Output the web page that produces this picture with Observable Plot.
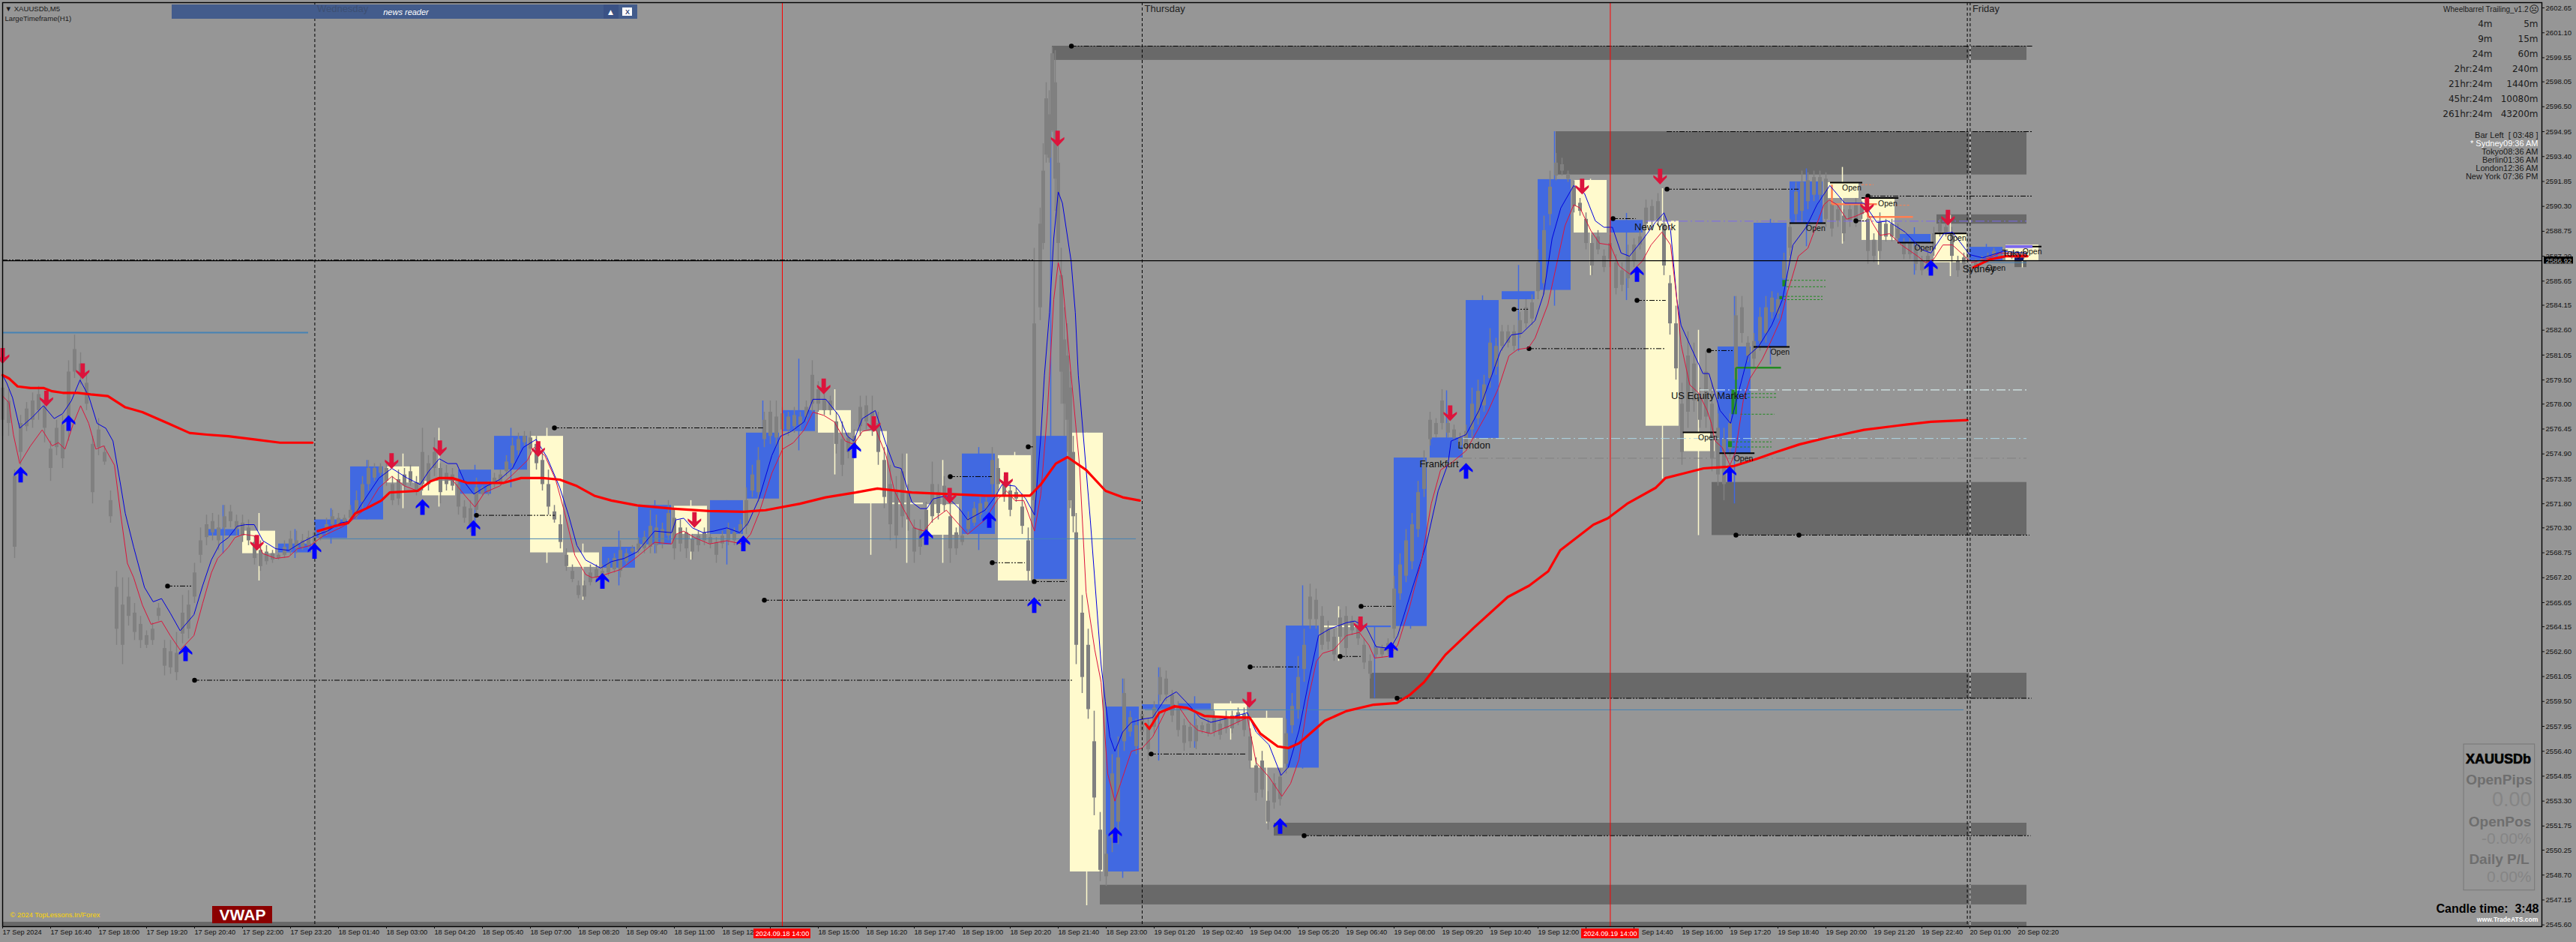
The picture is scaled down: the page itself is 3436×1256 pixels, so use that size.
<!DOCTYPE html>
<html><head><meta charset="utf-8">
<script src="https://cdn.jsdelivr.net/npm/d3@7"></script>
<script src="https://cdn.jsdelivr.net/npm/@observablehq/plot@0.6"></script>
<style>html,body{margin:0;padding:0;background:#969696}svg{display:block}</style>
</head><body><div id="chart"></div>
<script>
// All price values below are stored minus priceBase; bars are M5 bar numbers counted from the left edge.
const priceBase = 2000;
const priceTicks = [2602.65,2601.10,2599.55,2598.05,2596.50,2594.95,2593.40,2591.85,2590.30,2588.75,2587.20,2585.65,2584.15,2582.60,2581.05,2579.50,2578.00,2576.45,2574.90,2573.35,2571.80,2570.30,2568.75,2567.20,2565.65,2564.15,2562.60,2561.05,2559.50,2557.95,2556.40,2554.85,2553.30,2551.75,2550.25,2548.70,2547.15,2545.60];
const timeLabels = ["17 Sep 2024","17 Sep 16:40","17 Sep 18:00","17 Sep 19:20","17 Sep 20:40","17 Sep 22:00","17 Sep 23:20","18 Sep 01:40","18 Sep 03:00","18 Sep 04:20","18 Sep 05:40","18 Sep 07:00","18 Sep 08:20","18 Sep 09:40","18 Sep 11:00","18 Sep 12","","18 Sep 15:00","18 Sep 16:20","18 Sep 17:40","18 Sep 19:00","18 Sep 20:20","18 Sep 21:40","18 Sep 23:00","19 Sep 01:20","19 Sep 02:40","19 Sep 04:00","19 Sep 05:20","19 Sep 06:40","19 Sep 08:00","19 Sep 09:20","19 Sep 10:40","19 Sep 12:00","","\u00a0\u00a0\u00a0\u00a0Sep 14:40","19 Sep 16:00","19 Sep 17:20","19 Sep 18:40","19 Sep 20:00","19 Sep 21:20","19 Sep 22:40","20 Sep 01:00","20 Sep 02:20"];
const barsPerLabel = 16;

// M5 candles, one row every 2 bars: [high, low, bodyTop, bodyBottom]
const candlesTue = [[579.8,576,579,577],[578.9,576,578.2,576.8],[573.9,568.4,573.5,569.1],[577.3,574.2,576.8,575],[578.1,576.3,577.7,576.6],[578.7,576.5,578.2,577],[579.1,577,578.6,577.6],[578.4,575.6,577.8,576.5],[575.7,573.2,575.2,574],[577,574.8,576.5,575.3],[577.3,574,576.7,574.6],[580.7,575.7,580,576.5],[582.3,579.6,581.4,580],[581.2,579.2,580.5,579.8],[580,577.6,579.3,578],[576,571.8,575.5,572.5],[577.1,574.8,576.4,575.3],[575.4,574.2,575,574.4],[572.6,570.6,572,571],[567.6,563,566.6,564],[567.2,561.8,565.5,563],[567.2,564.2,566,564.8],[565.6,563.3,565,563.8],[564.8,562.8,564.3,563.3],[563.9,562.8,563.6,563],[564.4,563,564,563.3],[565.6,564.5,565.3,564.8],[563.3,561.1,562.8,561.7],[563.3,561.2,562.6,561.6],[563.8,560.8,562.5,561.3],[566.1,563.1,565,563.7],[566.4,563.4,565.5,564],[568.1,565.6,567.5,566],[570.3,568.1,569.5,568.6],[571.1,569.2,570.5,569.7],[571.2,569.5,570.7,570],[571.1,568.9,570.3,569.5],[571.7,569.8,571,570.3],[571.7,570.3,571.3,570.7],[571.1,569.8,570.7,570.2],[571.1,569.4,570.6,569.8],[570.8,569.2,570.3,569.5],[569.8,568,569.4,568.4],[569.5,567.6,568.9,567.9],[569.2,568,568.8,568.2],[568.9,568.1,568.7,568.3],[568.7,568.3,568.6,568.4],[569.5,568.4,569.1,568.6],[570.1,568.6,569.6,568.9],[570.1,568.7,569.5,569],[569.9,568.9,569.5,569.1],[570.1,569,569.7,569.2]];
const candlesWed = [[570.6,568.9,570,569.2],[570.1,569.5,569.9,569.6],[570.9,569.8,570.5,570],[571.4,570.3,571,570.5],[571.2,570.3,570.9,570.5],[571.1,570.4,570.9,570.6],[571.7,570.8,571.4,570.9],[572.6,570.8,572,571],[573.5,571.5,573,571.9],[574.5,572.6,574,573],[574.3,573.2,574,573.4],[574.3,573.5,574.1,573.7],[574.3,572.9,574,573.2],[573.5,571.7,573,572],[573.9,571.7,573.3,572.1],[574,572.6,573.6,572.9],[574.2,572.9,573.8,573.1],[573.5,572.3,573.1,572.6],[576.5,572.6,575,573],[574.8,572.6,574.3,573],[575.9,573.5,575,574],[574.3,571.8,574,572.5],[574.2,572.6,573.7,573],[574,572.6,573.6,572.9],[573.4,571.1,573,571.6],[572,570.6,571.6,570.9],[572,570,571.5,570.5],[573.4,571.1,572.8,571.4],[572.9,572.3,572.8,572.4],[573.2,572.3,572.9,572.5],[573.7,572.8,573.4,573],[573.9,572.9,573.6,573.1],[574.8,573.5,574.4,573.8],[575.9,574,575.4,574.3],[576.2,574.8,575.8,575.1],[576.3,575.4,576,575.6],[576.3,574.8,575.9,575.2],[576,573.9,575.5,574.3],[575.1,572.6,574.5,573],[573.9,571.1,573,571.6],[571.7,570.6,571.3,570.8],[571.1,569,570.5,569.4],[569,567.6,568.6,567.9],[568,566.9,567.6,567.1],[567,565.9,566.7,566.1],[567,565.8,566.7,566],[568,566.7,567.5,566.9],[568,567,567.7,567.2],[568,566.7,567.6,566.9],[568.4,567.3,568.1,567.5],[568.7,567.5,568.4,567.7],[569.5,567.2,568.9,567.6],[569,568,568.7,568.2],[569.2,568.7,569,568.8],[569.7,568.7,569.3,568.9],[570.1,568.7,569.7,569],[571.4,568.7,570.4,569.1],[571.1,568.7,570.3,569.2],[570.6,569,570.2,569.3],[572,569.5,571.2,569.8],
[571.5,568.3,570.9,569],[570.8,568.8,570.3,569.3],[570.3,568.4,570,569],[569.9,568.3,569.6,568.8],[570.1,568.8,569.8,569.2],[570.3,569.2,570,569.5],[569.9,569,569.7,569.3],[569.7,568.1,569.4,568.6],[570.1,569,569.8,569.3],[570.6,569.2,570.2,569.5],[570.3,569.2,570,569.5],[570.8,569.9,570.5,570.1],[572.8,569.9,572,570.4],[574.2,572.2,573.6,572.6],[575.3,571.9,574.5,572.5],[577.5,575.3,577,575.8],[578.2,575.5,577.5,576],[578.2,575.3,577.2,575.9],[577.8,576,577.4,576.4],[577.5,576,577.2,576.4],[577.8,576.2,577.3,576.6],[577.5,576.4,577.2,576.7],[578.2,576.9,577.8,577.2],[580.7,577.5,579.8,578],[579.4,577.5,578.9,578],[578.7,577.3,578.3,577.6],[578.5,577.3,578.2,577.6],[577.5,574.9,576.9,575.5],[576.9,573.5,575.8,574.2],[576.2,574.6,575.9,575],[576.4,574.6,576,575],[578.5,576,577.8,576.6],[578.5,576.4,577.9,576.9],[578.5,576,577.5,576.5],[577.5,574.2,576.8,575],[575.3,571.5,574.5,572.2],[574.2,569.5,573,570.5],[573.5,569,572.5,569.8],[574.9,570.3,573.8,571],[573,570.1,572.5,570.8],[570.8,568.1,570.3,568.8],[570.8,568.6,570.2,569.1],[571.9,569.7,571.4,570.1],[574.4,570.6,573,571],[573,570.8,572.5,571.2],[573.5,571.3,572.9,571.7],[571.9,568.1,571,569],[570.3,568.6,570,569],[569.9,569.2,569.8,569.4],[571.3,569.9,570.9,570.2],[571.9,570.4,571.5,570.6],[572.2,570.8,571.8,571.1],[572.2,571.3,571.9,571.5],[575.3,572.4,574.5,573],[574.6,572.6,574,573],[573.5,571.9,573,572.3],[573,571,572.6,571.4],[572.8,571.9,572.5,572.1],[572.4,569.9,571.6,570.4],[570.3,567,569.5,567.6],[587.7,570.9,583,572]];
// the spike around 21:00 on Wednesday: [bar, high, low, bodyTop, bodyBottom]
const candlesSpike = [[346,590.2,583.2,589.2,584],[347,594.2,587.6,592.5,588],[348,598,593,597,593.5],[349,597.5,593,596,593.3],[350,600.2,594.9,599.8,595],[351,600,590,598,592],[352,594.9,586.8,593,588],[353,587.7,578,586,580],[354,584,576,582,578],[355,583,575,581,577],[356,580,571.5,579,572],[357,576,570,575,571]];
const candlesThu = [[571.2,561.8,570,563],[566.1,560,565,561],[564,558.4,563,559],[558.9,552.4,557,553.5],[552.6,548.3,551.5,549],[551.2,548,550,548.6],[556.2,550.1,555,551],[557.3,550.6,556,552],[560.9,556.4,560,557],[558.9,557.3,558.5,557.6],[558.4,556.2,558,556.7],[559.1,557.3,558.7,557.6],[558.4,555.8,558,556.5],[559.5,557.5,559.1,557.9],[561.6,559.5,561,559.9],[561.4,559.5,560.9,559.9],[560.2,558.2,559.9,558.6],[559.5,557.3,559.1,557.7],[558.4,556.4,558,556.9],[558.2,556.6,557.9,557],[558.4,556.5,558,557],[558.2,557.5,558,557.7],[558.4,557.3,558.1,557.5],[558.9,557.3,558.5,557.6],[558.4,557.1,558.1,557.4],[558.9,557.5,558.5,557.8],[558.9,557.5,558.6,557.8],[559.1,558,558.8,558.2],[559.1,557.3,558.7,557.7],[557.8,555.3,557.3,555.8],[556,553.3,555.5,553.8],[556.4,553.5,555.8,554],[553.9,551.5,553.3,552],[555,552.8,554.4,553.2],[555.3,553,554.8,553.4],[558.4,555,557.5,555.6],[560,557.5,559.2,558],[562.3,558.4,561,559],[564,560.7,563,561.5],[566.8,564,566,564.6],[566.5,564,565.8,564.6],[565.4,562.7,564.8,563],[564.5,562.7,564,563.2],[564,562,563.5,562.4],[565.2,563.2,564.7,563.5],[565.4,562.2,564.8,562.8],
[564.8,563.6,564.5,563.9],[564.6,563,564.2,563.4],[563.4,561.5,563,561.9],[562.4,560.9,562,561.2],[563,562.2,562.8,562.4],[563,562.2,562.8,562.4],[563.4,562.4,563.1,562.6],[567.3,563.4,566.5,564],[568.7,565.8,568,566.2],[570.2,566.9,569.5,567.3],[571.2,567.7,570.5,568.2],[573.2,569.7,572.5,570.2],[575.1,572.2,574.5,572.7],[577.5,575.4,577,575.8],[577.1,575.9,576.8,576.1],[578.9,576.4,578.2,576.8],[577.1,575.9,576.8,576.2],[576.7,575.7,576.4,575.9],[576.2,575.1,575.9,575.4],[576.7,575.1,576.3,575.4],[579,575.9,578,576.4],[579.5,576.7,578.8,577.1],[579.8,577.5,579.2,577.9],[582.7,579,581.8,579.6],[582.1,579.8,581.6,580.3],[582.9,581.3,582.5,581.6],[582.9,581.5,582.5,581.8],[582.9,581.3,582.5,581.6],[583.7,582.1,583.2,582.4],[584.5,582.7,584,583],[584.8,582.9,584.3,583.3],[587.6,584.5,586.8,585],[589.7,584.8,588.8,585.5],[592.5,589.1,591.5,589.8],[593.6,591.9,593,592.2],[593.3,592.2,592.9,592.5],[592.5,591.8,592.3,592],[591.9,589.9,591.5,590.3],[590.8,589.7,590.5,590],[589.9,587.6,589.5,588],[588.5,586,588,586.6],[588.8,587.3,588.4,587.6],[587.6,586.2,587.2,586.5],[588.5,586.5,588,587],[587.3,584.8,586.8,585.2],[586.8,585,586.3,585.4],[587.9,585.2,587.2,585.8],[588.3,586.5,587.9,586.9],[588.8,587.6,588.4,587.9],[590.7,588.8,590.2,589.2],[590.7,589.1,590.3,589.4],[591.1,589.1,590.6,589.5],[589.7,586,589.2,586.6],[586,582.3,585.5,583],[584.1,579.5,583,580.2],
[579.3,574.2,578,575],[582.5,576.5,581,577.5],[581.8,577.5,580.5,578.2],[579,576.5,578.4,577],[581.3,576.5,580,577.2],[579.3,573.8,578,574.6],[577.4,572.9,576.5,573.6],[576.5,572,575.8,573],[577.4,574.7,576.8,575.2],[584.7,578.3,583.5,579.5],[584.7,581.8,584,582.4],[582.2,580.6,581.8,581],[582.4,580.2,581.9,580.8],[584,581.3,583.4,581.9],[584.7,581.8,584,582.4],[585,583.3,584.6,583.7],[584.9,583.3,584.5,583.6],[587.4,585.4,586.9,585.8],[589.5,587.2,589,587.7],[591.8,589.2,591.2,589.8],[592.5,589.3,591.8,590],[592.4,590.1,591.9,590.6],[592.5,590.6,592.1,591],[592.5,590.6,592.1,591],[592.4,589,592,589.5],[590.8,588.4,590.4,588.9],[590.4,589,590.1,589.4],[590.1,588.1,589.7,588.6],[590.4,589,590.1,589.4],[590.8,589,590.4,589.4],[590.6,589.5,590.3,589.8],[590.1,586.7,589.5,587.5],[588.6,586.8,588.2,587.2],[589.9,587,589.3,587.5],[589.5,588.1,589.2,588.4],[589.5,588.1,589.2,588.4],[589.2,588.1,588.9,588.3],[588.3,587,588,587.3],[588.3,587,588,587.3],[588.1,586.3,587.8,586.7],[587.2,586,586.9,586.3],[587.5,586.3,587.2,586.6],[589,587.2,588.6,587.6],[589.5,588.4,589.2,588.7],[589.2,588.4,589,588.6],[589,586.8,588.6,587.2],[587.2,585.9,586.9,586.3],[587.4,586.5,587.1,586.7],[586.8,585.9,586.6,586.2],[587,586.1,586.8,586.3],[587.2,586.7,587,586.8],[587.4,586.8,587.2,587],[587.7,587,587.5,587.2],[587.5,587,587.3,587.1],[587.5,587.2,587.4,587.3],[587.5,587,587.4,587.1],[587.5,587,587.4,587.1],[587.3,587,587.2,587.1]];

// H1 candles behind the M5 ones: [firstBar, colour key, bodyTop, bodyBottom, high, low]
const hourCandles = [[68,"up",570.2,569.8,571.7,568.7],[80,"down",570.1,568.7,571.2,567],[92,"up",569.3,568.75,570.2,568.4],[104,"up",570.8,569.65,571.5,569.3],[116,"up",574.1,570.8,574.5,570.8],[128,"down",574.1,573.1,574.9,571.5],[140,"down",573.2,572.3,576.5,571.6],[152,"up",573.9,572.4,574.2,570.6],[164,"up",576,573.9,576.5,572.8],[176,"down",576,568.75,576.5,568.1],[188,"down",568.75,567.85,569.3,565.8],[200,"up",569.1,567.8,570.1,566.7],[212,"up",571.7,569.25,572,568.7],[224,"down",571.65,569.9,572,568.3],[236,"up",572,569.9,572,568],[248,"up",576.2,572.1,578.2,572.1],[260,"up",577.6,576.3,580.8,575.1],[272,"down",577.6,576.2,578.9,573.6],[284,"down",576.3,571.8,576.3,568.6],[296,"down",571.85,571.75,574.9,568.1],[308,"down",571.75,569.85,574.5,568.1],[320,"up",574.9,569.9,575.3,568.9],[332,"down",574.8,567,575,567],[344,"up",576,567.1,594.96,567.1],[356,"down",576.2,548.9,576.2,546.8],[368,"up",559.16,548.9,560.9,548.5],[380,"up",559.3,559,561.6,555.8],[392,"up",559.36,559,559.8,556.6],[404,"down",559.36,558.46,559.5,557.1],[416,"down",558.46,555.36,558.9,551.9],[428,"up",564.2,555.36,566.7,555.3],[440,"down",564.2,564.1,565.4,562],[452,"up",564.2,564.1,564.2,559.7],[464,"up",574.65,564.17,574.65,564],[476,"up",575.9,574.65,578.83,574.65],[488,"up",584.45,575.87,584.74,575.87],[500,"up",585,584.5,586.63,581.27],[512,"up",591.97,585.08,594.95,584.1],[524,"down",591.92,588.65,592,586],[536,"up",589.43,588.65,589.87,584.45],[548,"down",589.38,576.63,591.4,573.35],[560,"down",576.24,575.05,582.6,569.83],[572,"up",581.56,574.94,584.7,571.8],[584,"up",589.26,581.56,589.5,580.44],[596,"up",591.83,589.26,592.64,587.8],[608,"down",591.78,590.8,592.73,587.96],[620,"down",590.8,588.19,590.8,586.65],[632,"up",588.56,588.05,588.98,586.03],[644,"down",588.6,586.8,589.75,585.94],[656,"up",587.76,586.92,587.94,586.92],[668,"down",587.9,586.94,587.9,586.48]];

// Grey supply / demand zones: [firstBar, lastBar, top, bottom]
const zones = [[350,675,600.27,599.39],[518,675,594.95,592.26],[645,675,589.78,589.2],[570,675,573.13,569.83],[456,675,561.26,559.66],[424,675,551.93,551.13],[366,675,548.07,546.85],[0,675,545.77,545.49],[671,675,586.9,586.5]];
// Dash-dot level lines: [dotBar, endBar, price]
const levels = [[356.4,677,600.27],[555,599,591.37],[622,677,590.94],[618,621.6,589.4],[537,544.7,589.54],[545,554.7,584.45],[504,508.8,583.9],[509,554.7,581.45],[569,577,581.33],[578,676,569.85],[599,599,569.85],[465,676.7,559.7],[434,676.4,551.15],[383,415,556.23],[416,433,561.65],[446,453,562.3],[453,464,565.42],[342,344,575.34],[316,330,573.49],[330,341,568.13],[344,355,566.96],[254,355,565.8],[64,357,560.82],[184,253.7,576.52],[55,63,566.68],[158,184.3,571.08]];
const zoneTopLine = [[555,677,594.95]];
const steelLines = [[0,102,582.45,2],[106,378,569.62,1],[381,654,558.98,1],[659,675,586.8,1]];
const sessionLines = [[566,675,578.88,"#e6ffff"],[487,675,575.86,"#add8e6"],[487,675,574.63,"#808080"],[548,675,589.38,"#7b68ee"]];
const coralSolid = [[610,610,591.65,590.44],[610,625,590.44,590.44],[622,622,590.4,589.64],[622,637,589.64,589.64]];
const coralDashed = [[620,624,591.65],[631.4,636.3,590.37]];
const greenSolid = [[578,578,580.26,577.37],[578,593,580.26,580.26]];
const greenThick = [[577,578.9,577.37]];
const greenBlocks = [[575.5,576.8,575.67,575.3],[593.6,594.8,585.7,585.3],[592.6,593.6,584.7,584.5]];
const greenDashed = [[595,608,585.7],[595,608,585.3],[594,607,584.7],[594,607,584.5],[582,592,578.65],[582,592,578.42],[579.6,591,577.37],[577,590,575.65],[577,590,575.33]];
const openLines = [[609.5,620.25,591.78],[620,632.3,590.82],[632,644,588.05],[644.4,655,588.62],[673.4,680,587.8],[596,608,589.26],[584,596,581.56],[572.6,584.3,574.94],[560.4,571.6,576.24]];
const openLabels = [[616.6,591.44],[628.6,590.46],[640.7,587.73],[651.6,588.3],[676.8,587.48],[664.7,586.44],[604.6,588.92],[592.7,581.24],[580.5,574.6],[568.6,575.9]];
const sessionLabels = [["London",490.7,575.45],["Frankfurt",479,574.28],["New York",551,589],["US Equity Market",569,578.5],["Sydney",659,586.4],["Tokyo",671,587.4]];

// Moving averages: [bar, price]
const fastEma = [[0,579.8],[1.4,579.3],[3.3,578.4],[5.7,576.5],[10,577.2],[13.6,577.9],[17.2,577.1],[20,577.4],[22.9,578.2],[25.8,579.5],[28.7,578.5],[31.5,576.8],[34.4,576.5],[36.8,575.7],[39.4,572.9],[40.9,571.2],[43.7,569.1],[47.3,566.6],[50.2,565.7],[53,565.9],[55.9,565],[59.2,563.9],[63.8,564.9],[66.7,566.7],[69.6,568.3],[72.4,569.3],[75.3,569.7],[78.2,570.4],[81,570.5],[83.9,570.5],[86.8,569.5],[91.1,569],[95.4,568.9],[99.7,569.4],[104,569.8],[108.3,570.1],[112.6,570.6],[115.5,570.7],[118.4,571.4],[121.2,572.2],[125.5,573.4],[129.8,574],[134.9,573.4],[139.2,573],[142,573.8],[145.6,574.6],[148.5,574.3],[151.4,574.3],[154.2,573.1],[157.1,572.4],[161.4,572.9],[165.7,573.3],[170,574],[173.6,575.3],[177.9,575.8],[181.5,574.7],[185.8,572.8],[188.7,571.1],[191.5,569.2],[194.4,568.3],[199.4,567.8],[203,568.2],[207.3,568.4],[211.6,568.8],[217.4,570.1],[223.1,570],[224.5,570.8],[227.1,570.9],[230,570.3],[233.6,570],[237.2,570.1],[241.5,570.3],[245.8,570],[248.6,570.6],[252.2,572.1],[256.5,574.8],[259.4,576],[263,576.3],[267.3,576.9],[270.2,578.3],[274.5,578.3],[278.8,577.3],[281.7,576],[283.8,575.7],[286.7,577.1],[291,577.6],[294.6,575.5],[297.4,574.1],[299.6,574],[303.2,571.9],[306,571.5],[308.2,571.5],[310.3,572.1],[314.7,572.3],[319,571.5],[321.8,570.8],[327.6,571.4],[331.2,572.3],[333.3,573],[337.6,572.9],[341.2,572.1],[344.1,571.1],[346.2,576],[347.4,579.8],[349.1,583.7],[350.5,588.3],[352,591.2],[353.4,590.5],[356.3,586.9],[357.7,583.7],[358.7,579.8],[362.7,570.8],[366.3,561.8],[367.7,559.5],[369.2,557.3],[370.9,556.4],[373.5,557.6],[376.4,558.2],[380,558.4],[383.5,558.5],[387.8,559.7],[391.4,560.1],[395,559.4],[399.3,558.5],[402.9,558.2],[409.4,558.5],[415.1,558.8],[418,557.6],[422.3,556.8],[426.3,554.9],[428.7,555.4],[432.3,557.7],[435.9,561.1],[438.8,563.6],[442.4,564],[448.1,564.4],[450.9,564.5],[454.8,564.1],[458,562.9],[462.8,562.8],[465.2,563.6],[470,566.5],[474.8,569.3],[478.7,572.6],[482,574.3],[483,575.7],[488,576.1],[492.3,577.6],[496.6,579.8],[499.5,581.3],[503.1,582.3],[506.6,582.4],[511,583.2],[513.8,584.8],[516.7,588.3],[519.6,590.2],[523.9,591.6],[527.5,591.1],[531.1,589.4],[534,589],[536.8,589],[539.7,587.4],[542.5,587.2],[546.8,588.2],[551.1,589.3],[554,589.9],[556.2,588.8],[558.3,584.5],[559.7,582.9],[562.6,581.7],[567,579.9],[569,579.9],[572.7,577.6],[576.2,576.8],[579.1,578.9],[582,581],[585.6,581.6],[589.9,582.9],[593.5,584.5],[597,587.9],[601.4,589],[605,590.4],[609.3,591.6],[614.3,590.5],[620.7,590.5],[625,589.3],[628.6,589.4],[634.4,588.7],[640.1,587.6],[643,587.4],[647.3,588.6],[650.2,588.7],[655.9,587.3],[660.2,587.1],[667.1,587.5],[674.7,587.4]];
const slowEma = [[0,578.5],[2.1,578.1],[3.6,576.1],[5.7,574.3],[9.3,575.4],[13.2,576.4],[16.5,575.4],[18.6,575.6],[20.8,575.2],[23.6,576.8],[26,577.9],[28.7,576.8],[31.1,575.2],[33.7,575.4],[37.3,574.2],[39.4,571.1],[41.6,568.1],[43.7,567.2],[46.6,565.5],[49.5,564.3],[53,564.5],[55.9,563.6],[59.2,562.7],[63.8,563.6],[66.7,565.6],[69.6,567.5],[71.7,568.4],[75.3,569.1],[77.5,569.7],[80.3,569.9],[83.9,569.8],[86.8,568.7],[91.1,568.4],[95.4,568.5],[98.3,569],[102.6,569.2],[106.9,569.8],[112.6,570.3],[115.5,570.6],[118.4,571.1],[121.2,571.5],[125.5,572.8],[129.8,573.5],[134.1,572.9],[138.4,572.6],[142.7,573.2],[145.6,573.4],[149.9,573.3],[154.2,572.3],[157.5,571.6],[160.7,572.5],[165.7,572.9],[170,573.6],[175,574.5],[177.2,575.3],[180.8,574.8],[184.4,573.3],[187.2,571.4],[190.8,568.6],[194.4,567.4],[196.6,567.2],[199.4,567.3],[205.9,567.7],[211.6,568.5],[217.4,569.4],[223.1,569.3],[224.5,569.9],[227.1,570.1],[230.7,569.7],[235.7,569.3],[241.5,569.5],[246.5,569.3],[249.4,569.9],[252.2,571.2],[256.5,573.7],[260.1,575.2],[263.7,575.6],[267.3,576.4],[270.2,577.5],[273.8,577.3],[277.3,576.9],[281,575.7],[283.8,575.5],[286.7,576.3],[291,576.5],[294.6,574.8],[297.4,572.6],[300.3,571.5],[303.9,570.3],[307.2,570.1],[310.3,570.8],[314.7,571.4],[317.5,570.8],[321.8,569.9],[327.6,570.8],[331.9,572.1],[334.7,572.6],[337.6,572],[340.5,572],[344.1,570.1],[346.2,572.4],[348.4,577.5],[349.1,579.8],[350.5,584.5],[352,586.8],[353.4,585.7],[356.3,579.8],[359.1,574.2],[361.3,566.3],[364.2,562.7],[366.3,560.7],[368.5,555],[370.9,553.3],[372.8,554.4],[376.4,556.4],[380,556.6],[383.5,557.3],[387.8,558.9],[392.1,559.2],[395.7,558.2],[398.6,557.7],[402.9,557.5],[409.4,558],[415.1,558.5],[418,555.7],[422.3,554.8],[426.6,553.6],[429.5,554.4],[432.3,555.9],[435.2,559.5],[438.1,562],[440.2,562.5],[443.8,562.7],[448.1,563.6],[452.4,563.8],[455.6,563],[457.5,562.2],[462,562.3],[465.2,563],[469.2,565.4],[473.2,568.3],[476.4,571.8],[479.5,573.9],[483.5,574.4],[488,575.1],[495.2,577.5],[498.8,579],[502.3,581],[505.2,581.4],[508.8,581.5],[511,582.1],[515.3,584.2],[518.1,586.6],[521,589.1],[523.9,590.4],[526,590.2],[529.6,588.8],[532.5,588],[536.1,587.9],[539,586.6],[542.5,586.1],[546.8,586.9],[549.7,587.9],[553.3,588.7],[556.2,587.9],[558.3,584.5],[559.7,581.7],[562.6,579.2],[565.5,578.7],[568.4,577.6],[569.8,576.8],[571.1,575.7],[573.4,575.3],[576,574.2],[577.8,575],[580.5,578.3],[582.7,579.6],[586.8,580.8],[589.4,581.8],[593,583.3],[595.2,585],[596.6,585.8],[598.8,587.2],[602,587.7],[604.6,589],[607.3,590.4],[609.1,590.7],[611.8,590.4],[614.9,589.5],[618,589.7],[621.6,590],[623.4,589.3],[626,588.5],[629.2,588.6],[633.2,587.9],[638.6,587.2],[641.2,586.8],[643.9,587],[647,587.9],[650.2,587.9],[653.7,587.3],[656.4,586.8],[660.9,587],[666.2,587.4],[674.7,587.3]];
// VWAP, restarting each session
const vwapTue = [[0,579.8],[2.1,579.6],[5,579.1],[9.3,579],[13.6,579],[16.5,578.8],[20.1,578.7],[25.1,578.7],[29.4,578.6],[35.1,578.5],[40.9,577.8],[46.6,577.5],[55.2,576.8],[62.4,576.2],[68.1,576.1],[75.3,576],[83.9,575.8],[92.5,575.6],[103.3,575.6]];
const vwapWed = [[105.1,570.1],[110.5,570.4],[115.2,570.6],[117.6,571.2],[121.2,571.5],[126.3,572],[129.1,572.5],[138.4,572.6],[142.7,573.2],[145.6,573.4],[149.9,573.4],[154.9,573.1],[167.1,573.1],[172.9,573.4],[180.1,573.4],[185.8,573.3],[191.5,572.9],[197.3,572.3],[203,572],[211.6,571.7],[223.1,571.5],[235.7,571.35],[247.2,571.3],[254.4,571.4],[265.9,571.8],[274.5,572.2],[284.5,572.5],[291.7,572.75],[303.2,572.5],[316.1,572.4],[327.6,572.3],[342.6,572.3],[346.2,573],[351.2,574.3],[355.1,574.7],[361.3,573.9],[367.8,572.6],[373.5,572.2],[379.2,572]];
const vwapThu = [[381.1,558.1],[382.4,557.8],[385.7,558.8],[390.7,559.2],[395,559.1],[400.7,558.6],[409.4,558.5],[415.8,558.5],[419.4,557.5],[425.2,556.7],[428.7,556.6],[432.3,556.9],[440.9,558.3],[448.1,558.9],[457.2,559.3],[464.9,559.4],[469.2,559.9],[474,560.7],[481.1,562.4],[490.7,564.1],[501.9,566],[509,566.7],[515.4,567.6],[519.4,568.9],[530.5,570.5],[535.3,570.9],[541.7,571.8],[551.3,572.8],[554.5,573.4],[560.8,573.7],[567.2,574],[575.2,574.1],[577.4,574.15],[585,574.6],[591.2,575],[599.3,575.5],[608.2,575.9],[620.7,576.4],[631.4,576.65],[643,576.9],[655.2,577]];
const vwapFri = [[657.1,586.5],[662.7,587],[668,587.2],[675.2,587.2]];

// Signal arrows: [bar, price]
const upArrows = [[6,573.61],[22,576.82],[61,562.5],[104,568.87],[140,571.6],[157,570.29],[200,567],[247,569.33],[284,575.13],[308,569.73],[329,570.79],[344,565.5],[371,551.2],[426,551.75],[463,562.72],[488,573.85],[545,586.1],[575.9,573.65],[643,586.48]];
const downArrows = [[0,581],[14.6,578.34],[26.7,580.04],[84.8,569.37],[129.7,574.45],[145.8,575.25],[178.6,575.2],[230.7,570.79],[273.8,579.1],[290.5,576.75],[315.8,572.3],[334.6,573.27],[351.8,594.52],[415.7,559.6],[452.8,564.3],[482.7,577.43],[526.7,591.53],[552.7,592.15],[621.7,590.37],[648.7,589.6]];
const dayLines = [104.1,380,655.15,656.1];
const newsLines = [260,536.1];
const lastPrice = 586.92;
const dayNames = [["Wednesday",104.1],["Thursday",380],["Friday",656.1]];
const timeframes = [["4m","5m"],["9m","15m"],["24m","60m"],["2hr:24m","240m"],["21hr:24m","1440m"],["45hr:24m","10080m"],["261hr:24m","43200m"]];
const clocks = [["Bar Left  [ 03:48 ]","#1a1a1a"],["* Sydney09:36 AM","#ffffff"],["Tokyo08:36 AM","#1a1a1a"],["Berlin01:36 AM","#1a1a1a"],["London12:36 AM","#1a1a1a"],["New York 07:36 PM","#1a1a1a"]];

const P = v => v + priceBase;
const W = 3436, H = 1256, mL = 3, mR = 46, mT = 3, mB = 21;
const SANS = "'Liberation Sans', Arial, sans-serif";
const pxBar = x => (x - mL) / 4;
const pxPrice = y => 2602.65 - (y - 10) * 0.04666;

const toCandles = (rows, start) => rows.map((r, i) => ({bar: start + i * 2, hi: P(r[0]), lo: P(r[1]), top: P(r[2]), bot: P(r[3])}));
const candles = [...toCandles(candlesTue, 0), ...toCandles(candlesWed, 104), ...toCandles(candlesThu, 358),
  ...candlesSpike.map(r => ({bar: r[0], hi: P(r[1]), lo: P(r[2]), top: P(r[3]), bot: P(r[4])}))];
const h1 = hourCandles.map(r => ({s: r[0], e: r[0] + 11, m: r[0] + 5.5, fill: r[1] === "up" ? "#4169e1" : "#fffacd", top: P(r[2]), bot: P(r[3]), hi: P(r[4]), lo: P(r[5])}));

const upSym = {draw(c, size) { const r = Math.sqrt(size / Math.PI);
  c.moveTo(0,-r); c.lineTo(.85*r,-.1*r); c.lineTo(.85*r,.2*r); c.lineTo(.28*r,-.2*r); c.lineTo(.28*r,r); c.lineTo(-.28*r,r); c.lineTo(-.28*r,-.2*r); c.lineTo(-.85*r,.2*r); c.lineTo(-.85*r,-.1*r); c.closePath(); }};
const downSym = {draw(c, size) { const r = Math.sqrt(size / Math.PI);
  c.moveTo(0,r); c.lineTo(.85*r,.1*r); c.lineTo(.85*r,-.2*r); c.lineTo(.28*r,.2*r); c.lineTo(.28*r,-r); c.lineTo(-.28*r,-r); c.lineTo(-.28*r,.2*r); c.lineTo(-.85*r,-.2*r); c.lineTo(-.85*r,.1*r); c.closePath(); }};

const note = (t, x, y, o = {}) => Plot.text([t], {text: d => d, frameAnchor: "top-left", dx: x - mL, dy: y - mT, lineAnchor: "middle", textAnchor: "end", fontFamily: SANS, fontSize: 11, fill: "#1a1a1a", ...o});
const hline = (rows, o) => Plot.ruleY(rows, {x1: d => d[0], x2: d => d[1], y: d => P(d[2]), ...o});
const path = (rows, o) => Plot.line(rows, {x: d => d[0], y: d => P(d[1]), curve: "linear", ...o});

const marks = [
  // zones and H1 candles
  Plot.rect(zones, {x1: d => d[0], x2: d => d[1], y1: d => P(d[2]), y2: d => P(d[3]), fill: "#696969"}),
  Plot.ruleX(h1, {x: "m", y1: "hi", y2: "lo", stroke: "fill", strokeWidth: 1.5}),
  Plot.rect(h1, {x1: "s", x2: "e", y1: "top", y2: "bot", fill: "fill"}),
  // M5 candles
  Plot.ruleX(candles, {x: "bar", y1: "hi", y2: "lo", stroke: "#808080", strokeWidth: 1.5}),
  Plot.ruleX(candles, {x: "bar", y1: "top", y2: "bot", stroke: "#808080", strokeWidth: 5}),
  // session and level lines
  ...steelLines.map(r => Plot.ruleY([P(r[2])], {x1: r[0], x2: r[1], stroke: "#4682b4", strokeWidth: r[3]})),
  hline(sessionLines, {stroke: d => d[3], strokeDasharray: "12,4,2,4", strokeWidth: 1}),
  hline(levels, {stroke: "#000", strokeWidth: 1, strokeDasharray: "7,2,2,2,2,2"}),
  hline(zoneTopLine, {stroke: "#000", strokeWidth: 1, strokeDasharray: "7,2,2,2,2,2"}),
  Plot.dot(levels, {x: d => d[0], y: d => P(d[2]), r: 3.2, fill: "#000"}),
  hline(coralDashed, {stroke: "#ff7f50", strokeDasharray: "3,2"}),
  Plot.link(coralSolid, {x1: d => d[0], x2: d => d[1], y1: d => P(d[2]), y2: d => P(d[3]), stroke: "#ff7f50", strokeWidth: 2.5}),
  hline(greenDashed, {stroke: "#228b22", strokeDasharray: "3,2"}),
  Plot.link(greenSolid, {x1: d => d[0], x2: d => d[1], y1: d => P(d[2]), y2: d => P(d[3]), stroke: "#228b22", strokeWidth: 2.5}),
  Plot.link(greenThick, {x1: d => d[0], x2: d => d[0], y1: d => P(d[1]), y2: d => P(d[2]), stroke: "#228b22", strokeWidth: 4}),
  Plot.rect(greenBlocks, {x1: d => d[0], x2: d => d[1], y1: d => P(d[2]), y2: d => P(d[3]), fill: "#228b22"}),
  hline(openLines, {stroke: "#000", strokeWidth: 2}),
  // purple marker and dark mark at the last hour
  Plot.ruleY([P(587.8)], {x1: 668, x2: 677, stroke: "#7b68ee", strokeWidth: 4}),
  Plot.rect([0], {x1: 671, x2: 674, y1: P(587.1), y2: P(586.9), fill: "#191970"}),
  // averages
  path(fastEma, {stroke: "#0000e0", strokeWidth: 1}),
  path(slowEma, {stroke: "#dc143c", strokeWidth: 1}),
  ...[vwapTue, vwapWed, vwapThu, vwapFri].map(v => path(v, {stroke: "#ff0000", strokeWidth: 3.2})),
  // verticals and the current price
  Plot.ruleX(dayLines, {stroke: "#000", strokeDasharray: "4,3", strokeWidth: 1}),
  Plot.ruleX(zones, {x: 656.1, y1: d => P(d[2]), y2: d => P(d[3]), stroke: "#ffffff", strokeDasharray: "4,3", strokeWidth: 1}),
  Plot.ruleX(newsLines, {stroke: "#ff0000", strokeWidth: 1}),
  Plot.ruleY([P(lastPrice)], {stroke: "#000", strokeWidth: 1.2}),
  Plot.ruleY([P(lastPrice) + .04], {x1: 0, x2: 344, stroke: "#000", strokeWidth: 1, strokeDasharray: "7,2,2,2,2,2"}),
  // arrows
  Plot.dot(upArrows, {x: d => d[0], y: d => P(d[1]), r: 10.5, symbol: upSym, fill: "#0000ff", stroke: "none"}),
  Plot.dot(downArrows, {x: d => d[0], y: d => P(d[1]), r: 10.5, symbol: downSym, fill: "#dc143c", stroke: "none"}),
  // chart labels
  Plot.text(openLabels, {x: d => d[0], y: d => P(d[1]), text: () => "Open", fontSize: 10.5, fontFamily: SANS, fill: "#111"}),
  Plot.text(sessionLabels, {x: d => d[1], y: d => P(d[2]), text: d => d[0], fontSize: 13, fontFamily: SANS, fill: "#111"}),
  // frame and axes
  Plot.frame({stroke: "#000", strokeWidth: 1.4}),
  Plot.axisY({anchor: "right", ticks: priceTicks, tickFormat: d => d.toFixed(2), tickSize: 3, tickPadding: 2, fontSize: 9.6, fontFamily: SANS, label: null, color: "#111"}),
  Plot.axisX({anchor: "bottom", ticks: timeLabels.map((_, i) => i * barsPerLabel), tickFormat: b => timeLabels[b / barsPerLabel], tickSize: 3, tickPadding: 1, textAnchor: "start", fontSize: 9.2, fontFamily: SANS, label: null, color: "#111"}),
  // red date flags
  Plot.rect([[250.5, 269.5], [526.5, 545.7]], {x1: d => d[0], x2: d => d[1], y1: pxPrice(1238), y2: pxPrice(1251), fill: "#ff0000"}),
  Plot.text([[260, "2024.09.18 14:00"], [536.1, "2024.09.19 14:00"]], {x: d => d[0], y: pxPrice(1244.7), text: d => d[1], fill: "#fff", fontSize: 9.2, fontFamily: SANS}),
  // news reader banner
  Plot.rect([0], {x1: pxBar(229), x2: pxBar(850), y1: pxPrice(6), y2: pxPrice(25), fill: "#435c8c"}),
  Plot.rect([0], {x1: pxBar(805), x2: pxBar(825), y1: pxPrice(6), y2: pxPrice(25), fill: "#3a5285"}),
  Plot.rect([0], {x1: pxBar(830), x2: pxBar(843), y1: pxPrice(10), y2: pxPrice(21), fill: "#fff"}),
  note("news reader", 541, 16, {textAnchor: "middle", fill: "#fff", fontStyle: "italic", fontSize: 11}),
  note("▲", 814, 15.5, {textAnchor: "middle", fill: "#fff", fontSize: 9, fontFamily: "DejaVu Sans"}),
  note("X", 836.5, 15.5, {textAnchor: "middle", fill: "#33487a", fontSize: 9, fontWeight: "bold"}),
  note("▼ XAUUSDb,M5", 6, 11, {textAnchor: "start", fontSize: 9.6}),
  note("LargeTimeframe(H1)", 6, 24, {textAnchor: "start", fontSize: 9.6}),
  ...dayNames.map(d => Plot.text([d], {x: r => r[1], y: pxPrice(11), text: r => r[0], dx: 3, textAnchor: "start", fontSize: 13, fontFamily: SANS, fill: d[0] === "Wednesday" ? "#3d4f72" : "#222"})),
  // right-hand panel
  note("Wheelbarrel Trailing_v1.2", 3372, 12, {fontSize: 10}),
  note("☹", 3379.5, 12, {textAnchor: "middle", fontFamily: "DejaVu Sans", fontSize: 13}),
  ...timeframes.flatMap((t, i) => [
    note(t[0], 3324, 32 + i * 20, {fontFamily: "DejaVu Sans", fontSize: 12}),
    note(t[1], 3385, 32 + i * 20, {fontFamily: "DejaVu Sans", fontSize: 12})]),
  ...clocks.map((c, i) => note(c[0], 3385, 180 + i * 11, {fill: c[1], fontSize: 11})),
  // last price flag
  Plot.rect([0], {x1: pxBar(3393), x2: pxBar(3432), y1: pxPrice(342), y2: pxPrice(351.5), fill: "#000"}),
  Plot.text(["2586.92"], {text: d => d, x: pxBar(3412.5), y: P(lastPrice), fill: "#b8b8b8", fontSize: 9.6, fontFamily: SANS}),
  // account box
  Plot.rect([0], {x1: pxBar(3286), x2: pxBar(3380.7), y1: pxPrice(992), y2: pxPrice(1186.7), fill: "none", stroke: "#777", strokeWidth: 1}),
  note("XAUUSDb", 3332, 1012, {textAnchor: "middle", fontWeight: "bold", fontSize: 18, fill: "#000", stroke: "#000", strokeWidth: .6}),
  note("OpenPips", 3333, 1039, {textAnchor: "middle", fontWeight: "bold", fontSize: 19, fill: "#6e6e6e"}),
  note("0.00", 3376, 1066, {fontSize: 27, fill: "#858585"}),
  note("OpenPos", 3334, 1095, {textAnchor: "middle", fontWeight: "bold", fontSize: 19, fill: "#6e6e6e"}),
  note("-0.00%", 3376, 1118, {fontSize: 21, fill: "#858585"}),
  note("Daily P/L", 3333, 1145, {textAnchor: "middle", fontWeight: "bold", fontSize: 19, fill: "#6e6e6e"}),
  note("0.00%", 3376, 1169, {fontSize: 21, fill: "#858585"}),
  note("Candle time:  3:48", 3386, 1211, {fontSize: 16, fontWeight: "bold", fill: "#000"}),
  note("www.TradeATS.com", 3385, 1225.5, {fontSize: 8.6, fontWeight: "bold", fill: "#fff"}),
  // footer
  note("© 2024 TopLessons.In/Forex", 13, 1219, {textAnchor: "start", fontSize: 9.4, fill: "#ffd700"}),
  Plot.rect([0], {x1: pxBar(283), x2: pxBar(363), y1: pxPrice(1208), y2: pxPrice(1231), fill: "#8b0000"}),
  note("VWAP", 323, 1220, {textAnchor: "middle", fontSize: 21, fontWeight: "bold", fill: "#fff"})
];

const chart = Plot.plot({
  width: W, height: H, marginLeft: mL, marginRight: mR, marginTop: mT, marginBottom: mB,
  x: {domain: [0, (3390 - mL) / 4]},
  y: {domain: [pxPrice(1235), pxPrice(3)]},
  style: {background: "#969696", fontFamily: SANS},
  marks
});
document.getElementById("chart").appendChild(chart);
</script></body></html>
